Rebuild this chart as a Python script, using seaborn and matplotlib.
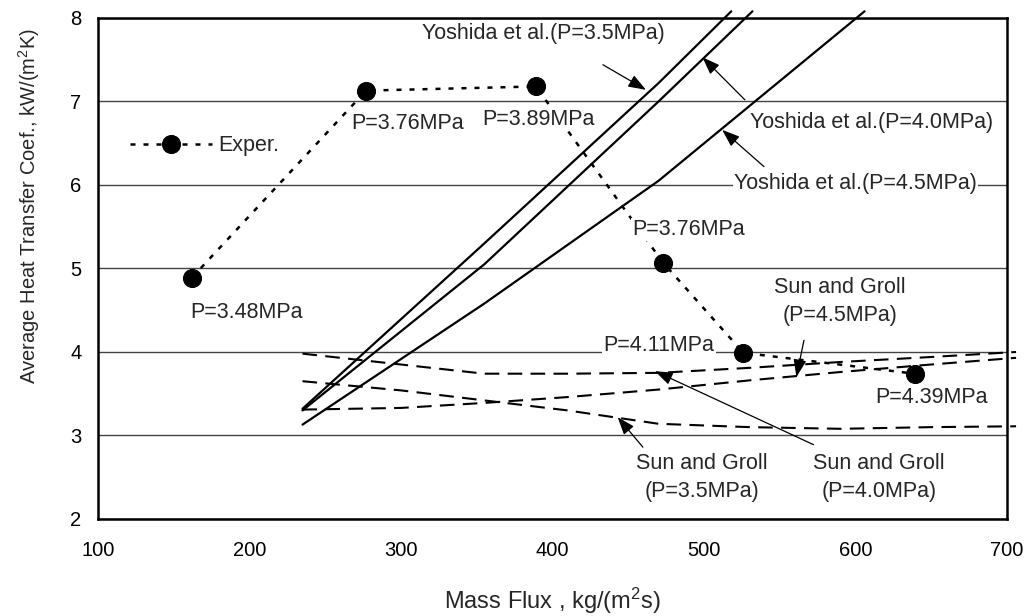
import matplotlib.pyplot as plt
import numpy as np
import pandas as pd
import seaborn as sns

# Experimental points and their pressure labels
exp_flux = [162, 277, 389, 473, 526, 639]
exp_htc = [4.89, 7.13, 7.18, 5.07, 3.99, 3.74]
exp_labels = ["P=3.48MPa", "P=3.76MPa", "P=3.89MPa",
              "P=3.76MPa", "P=4.11MPa", "P=4.39MPa"]

# Yoshida et al. correlation (solid)
yos35_flux = [235, 355, 470, 518]
yos35_htc = [3.32, 5.30, 7.22, 8.08]
yos40_flux = [235, 355, 470, 532]
yos40_htc = [3.30, 5.05, 7.00, 8.08]
yos45_flux = [235, 355, 470, 606]
yos45_htc = [3.13, 4.58, 6.05, 8.08]

# Sun and Groll correlation (dashed)
sun_flux = [235, 300, 355, 410, 470, 530, 590, 650, 706]
sun35_htc = [3.65, 3.54, 3.42, 3.30, 3.14, 3.10, 3.08, 3.10, 3.11]
sun40_htc = [3.98, 3.85, 3.74, 3.74, 3.75, 3.81, 3.88, 3.94, 4.00]
sun45_htc = [3.31, 3.33, 3.39, 3.46, 3.55, 3.66, 3.76, 3.85, 3.93]

sns.set_theme(style="white")
plt.rcParams["font.family"] = ["Liberation Sans", "DejaVu Sans"]
plt.rcParams["mathtext.default"] = "regular"

fig = plt.figure(figsize=(10.27, 6.16), dpi=100)
ax = fig.add_axes([0.0954, 0.1575, 0.8851, 0.8133])

k = "black"
fs = 15.5
sns.lineplot(x=yos35_flux, y=yos35_htc, ax=ax, color=k, lw=1.6, sort=False)
sns.lineplot(x=yos40_flux, y=yos40_htc, ax=ax, color=k, lw=1.6, sort=False)
sns.lineplot(x=yos45_flux, y=yos45_htc, ax=ax, color=k, lw=1.6, sort=False)
for htc in [sun35_htc, sun40_htc, sun45_htc]:
    sns.lineplot(x=sun_flux, y=htc, ax=ax, color=k, lw=1.5, sort=False,
                 linestyle=(0, (7, 4)))
for ln in ax.lines:
    ln.set_clip_on(False)

sns.lineplot(x=exp_flux, y=exp_htc, ax=ax, color=k, lw=1.8, sort=False,
             linestyle=(0, (2, 3.2)), marker="o", markersize=13,
             markeredgecolor=k, label="Exper.")
exper_line = ax.lines[-1]

box = dict(facecolor="white", edgecolor="none", pad=1)
offsets = [(-2, -35), (-15, -33), (-54, -33), (-31, 33), (-140, 7), (-39, -24)]
for fx, hy, lab, off in zip(exp_flux, exp_htc, exp_labels, offsets):
    ax.annotate(lab, (fx, hy), xytext=off, textcoords="offset pixels",
                ha="left", va="center", fontsize=fs, bbox=box, zorder=5)

arrow = dict(arrowstyle="-|>,head_length=0.6,head_width=0.22", color=k,
             lw=0.9, mutation_scale=18, shrinkA=0, shrinkB=0)

# Yoshida labels
ax.text(313.9, 7.82, "Yoshida et al.(P=3.5MPa)", fontsize=fs, va="center",
        bbox=box, zorder=5)
ax.annotate("", xy=(461.7, 7.14), xytext=(433.3, 7.44), arrowprops=arrow)
ax.text(530.4, 6.75, "Yoshida et al.(P=4.0MPa)", fontsize=fs, va="center",
        bbox=box, zorder=5)
ax.annotate("", xy=(499, 7.53), xytext=(527, 7.02), arrowprops=arrow)
ax.text(519.8, 6.02, "Yoshida et al.(P=4.5MPa)", fontsize=fs, va="center",
        bbox=box, zorder=5)
ax.annotate("", xy=(512, 6.66), xytext=(539.6, 6.22), arrowprops=arrow)

# Sun and Groll labels
ax.text(498.7, 2.50, "Sun and Groll\n(P=3.5MPa)", fontsize=fs, ha="center",
        va="center", linespacing=1.45)
ax.annotate("", xy=(443, 3.22), xytext=(459.7, 2.86), arrowprops=arrow)
ax.text(615.5, 2.50, "Sun and Groll\n(P=4.0MPa)", fontsize=fs, ha="center",
        va="center", linespacing=1.45)
ax.annotate("", xy=(467.7, 3.77), xytext=(572.3, 2.89), arrowprops=arrow)
ax.text(589.8, 4.60, "Sun and Groll\n(P=4.5MPa)", fontsize=fs, ha="center",
        va="center", linespacing=1.45, bbox=box, zorder=5)
ax.annotate("", xy=(561, 3.70), xytext=(566, 4.14), arrowprops=arrow)

ax.set(xlim=(100, 700), ylim=(2, 8),
       xticks=np.arange(100, 701, 100), yticks=np.arange(2, 9, 1))
ax.yaxis.grid(True, color="#444444", lw=1.0)
ax.set_axisbelow(True)
for sp in ax.spines.values():
    sp.set_color(k)
    sp.set_linewidth(1.8)
ax.tick_params(axis="both", direction="in", length=5, width=1.5, colors=k,
               labelsize=14.5)
ax.tick_params(axis="x", pad=16)
ax.tick_params(axis="y", pad=12)

ax.set_xlabel("Mass Flux , kg/(m$^2$s)", fontsize=17)
ax.set_ylabel("Average Heat Transfer Coef., kW/(m$^2$K)", fontsize=14.5)
ax.xaxis.set_label_coords(0.5, -0.133)
ax.yaxis.set_label_coords(-0.062, 0.625)

ax.legend(handles=[exper_line], labels=["Exper."], loc="center left",
          bbox_to_anchor=(0.035, 0.745), frameon=False, fontsize=fs,
          handlelength=3.8, handletextpad=0.3, borderpad=0, borderaxespad=0,
          numpoints=1)

fig.savefig("out.png", dpi=100)
